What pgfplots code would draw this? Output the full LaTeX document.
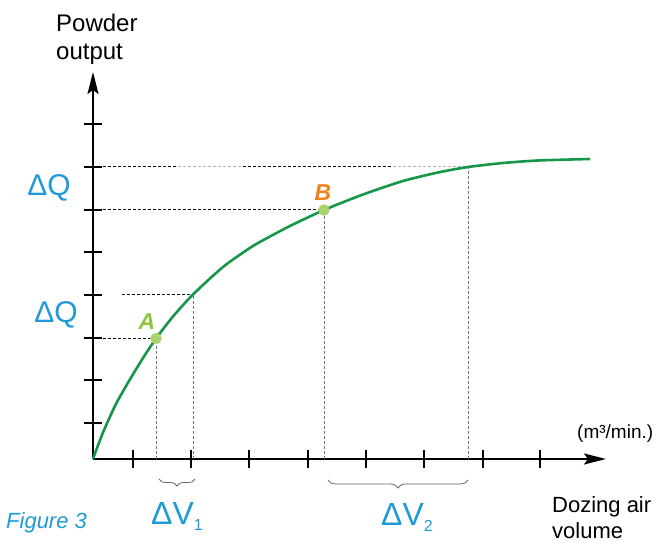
\documentclass[border=0pt]{standalone}
\usepackage{pgfplots}
\pgfplotsset{compat=1.18}
\usepackage{fontspec}
\setmainfont{Liberation Sans}
\usetikzlibrary{arrows.meta,decorations.pathreplacing}
\definecolor{curvegreen}{RGB}{22,150,72}
\definecolor{ptgreen}{RGB}{170,212,110}
\definecolor{labblue}{RGB}{30,155,215}
\definecolor{agreen}{RGB}{141,198,63}
\definecolor{borange}{RGB}{240,130,30}
\begin{document}
\begin{tikzpicture}
\begin{axis}[
  scale only axis, width=513pt, height=387pt,
  xmin=0, xmax=513, ymin=0, ymax=387,
  axis lines=left,
  axis line style={line width=2pt, -{Stealth[length=22pt,width=11pt,inset=4pt]}},
  xtick={40,98,156,215,273,331,390,447},
  ytick={36,79,121,164,207,249,292,335},
  xticklabels={}, yticklabels={},
  tick align=center, major tick length=18pt,
  tick style={line width=1.8pt, black},
  clip=false,
]
% guide lines (horizontal, black dashed)
\addplot[black, line width=1pt, dash pattern=on 3pt off 2pt] coordinates {(0,292)(85,292)};
\addplot[black!30, line width=1pt, dash pattern=on 3pt off 2pt] coordinates {(85,292)(150,292)};
\addplot[black, line width=1pt, dash pattern=on 3pt off 2pt] coordinates {(150,292)(300,292)};
\addplot[black!30, line width=1pt, dash pattern=on 3pt off 2pt] coordinates {(300,292)(375,292)};
\addplot[black, line width=1pt, dash pattern=on 3pt off 2pt] coordinates {(0,249)(231,249)};
\addplot[black, line width=1pt, dash pattern=on 3pt off 2pt] coordinates {(29,164)(100,164)};
\addplot[black, line width=1pt, dash pattern=on 3pt off 2pt] coordinates {(0,121)(63,121)};
% guide lines (vertical, grey dashed)
\addplot[black!55, line width=0.8pt, dash pattern=on 3pt off 2pt] coordinates {(63,0)(63,121)};
\addplot[black!55, line width=0.8pt, dash pattern=on 3pt off 2pt] coordinates {(100,0)(100,164)};
\addplot[black!55, line width=0.8pt, dash pattern=on 3pt off 2pt] coordinates {(231,0)(231,249)};
\addplot[black!55, line width=0.8pt, dash pattern=on 3pt off 2pt] coordinates {(375,0)(375,292)};
% curve
\addplot[curvegreen, line width=2.6pt, smooth, tension=0.4] coordinates {
(0,0)(4,11)(9,24)(13,33.5)(18,44.5)(24,57)(36,78)(50,101)(63,120.5)(80,142.5)
(100,164.5)(130,192)(160,213)(195,232)(231,249)(270,264.5)(310,278)(345,286.5)
(375,292)(410,296)(445,298.5)(497,300)};
% points
\addplot[only marks, mark=*, mark size=5.5pt, mark options={fill=ptgreen, draw=ptgreen}] coordinates {(63,120.5)(231,249)};
% labels
\node[agreen, font=\fontsize{23}{23}\selectfont\bfseries\itshape] at (axis cs:54,137) {A};
\node[borange, font=\fontsize{23}{23}\selectfont\bfseries\itshape] at (axis cs:230,266) {B};
\node[labblue, font=\fontsize{30}{30}\selectfont] at (axis cs:-44,271) {ΔQ};
\node[labblue, font=\fontsize{30}{30}\selectfont] at (axis cs:-37,144) {ΔQ};
\node[anchor=base west, inner sep=0pt, labblue, font=\fontsize{32}{32}\selectfont] at (axis cs:58,-65) {ΔV\raisebox{-6pt}{\fontsize{16}{16}\selectfont 1}};
\node[anchor=base west, inner sep=0pt, labblue, font=\fontsize{32}{32}\selectfont] at (axis cs:288,-66) {ΔV\raisebox{-6pt}{\fontsize{16}{16}\selectfont 2}};
\node[anchor=base west, inner sep=0pt, labblue, font=\fontsize{22}{22}\selectfont\itshape] at (axis cs:-87,-69) {Figure 3};
\node[anchor=base west, inner sep=0pt, font=\fontsize{24}{24}\selectfont] at (axis cs:-37,427) {Powder};
\node[anchor=base west, inner sep=0pt, font=\fontsize{24}{24}\selectfont] at (axis cs:-37,399) {output};
\node[anchor=base west, inner sep=0pt, font=\fontsize{22}{22}\selectfont] at (axis cs:459,-53) {Dozing air};
\node[anchor=base west, inner sep=0pt, font=\fontsize{22}{22}\selectfont] at (axis cs:459,-79) {volume};
\node[anchor=base west, inner sep=0pt, font=\fontsize{19}{19}\selectfont] at (axis cs:484,21) {(m³/min.)};
% braces
\draw[decorate, decoration={brace, mirror, amplitude=7pt}, line width=0.8pt, black!60] (axis cs:66,-20) -- (axis cs:102,-20);
\draw[decorate, decoration={brace, mirror, amplitude=8pt}, line width=0.8pt, black!60] (axis cs:235,-21) -- (axis cs:375,-21);
\coordinate (bl) at (axis cs:-93,-85);
\coordinate (tr) at (axis cs:574,459);
\end{axis}
\pgfresetboundingbox
\useasboundingbox (bl) rectangle (tr);
\end{tikzpicture}
\end{document}
